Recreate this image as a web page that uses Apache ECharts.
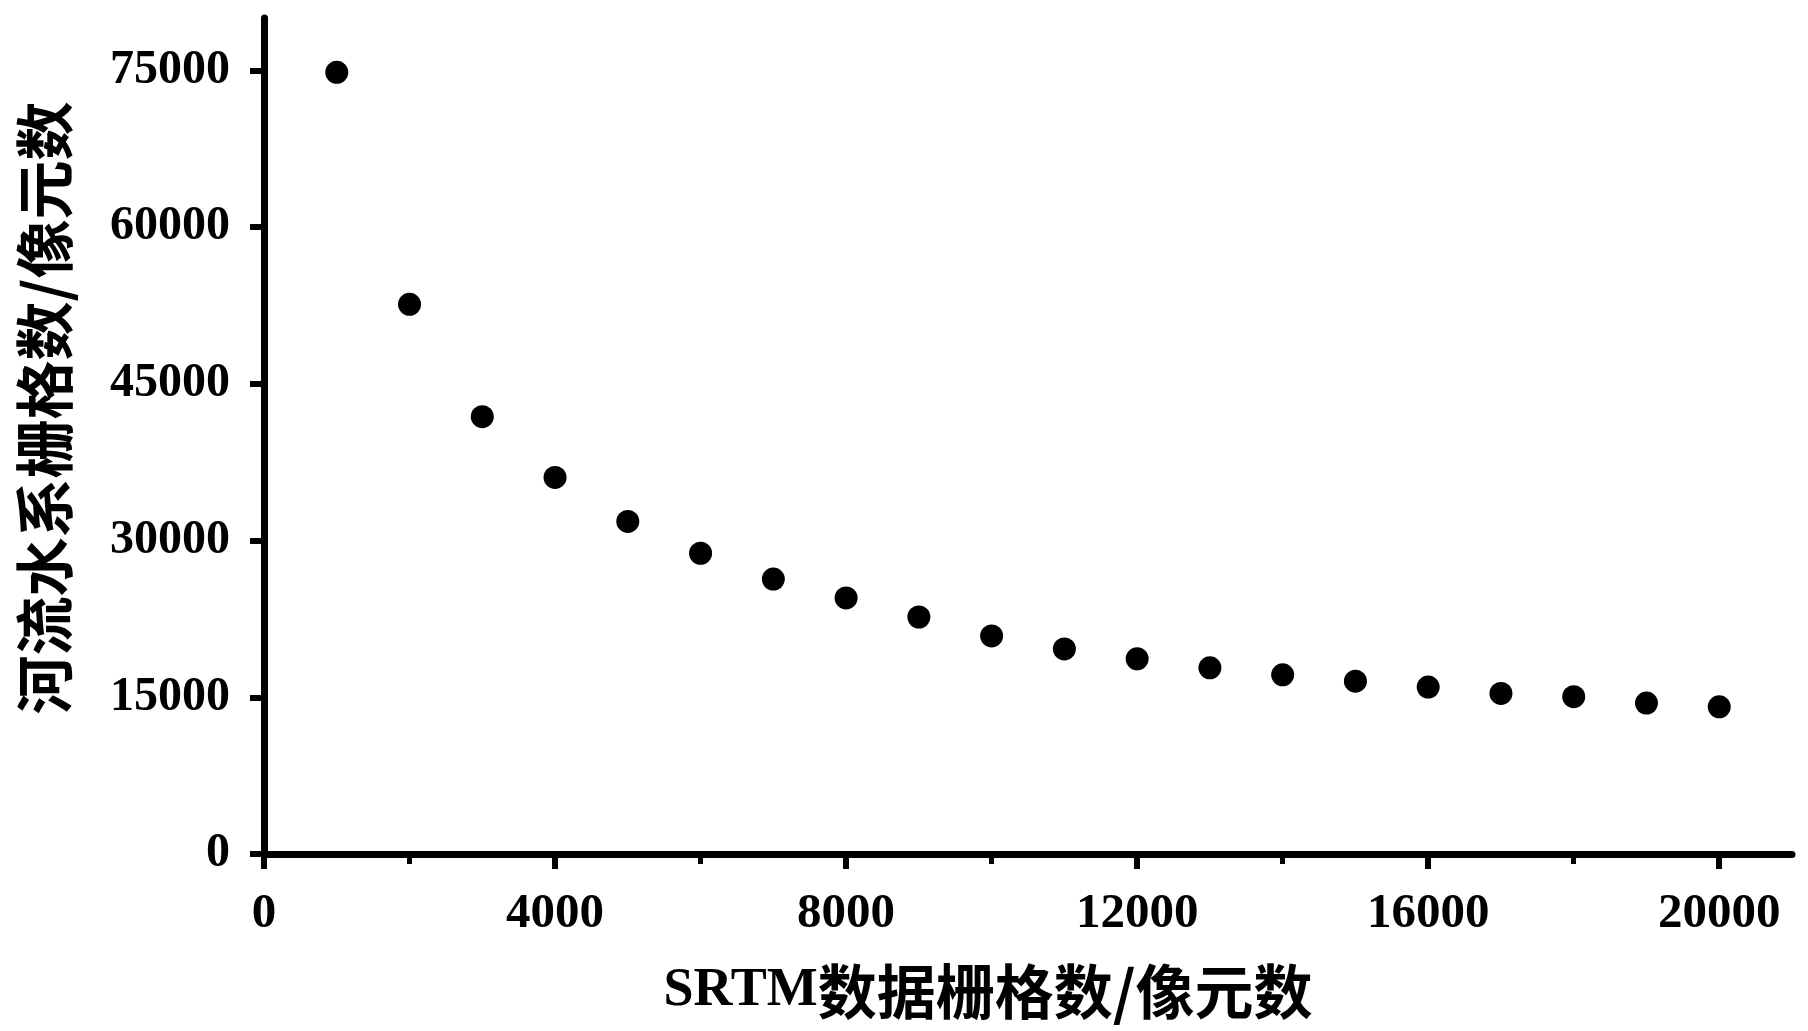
<!DOCTYPE html>
<html>
<head>
<meta charset="utf-8">
<script src="https://cdn.jsdelivr.net/npm/echarts@6/dist/echarts.min.js"></script>
<style>
html,body{margin:0;padding:0;background:#fff;}
#chart{width:1808px;height:1031px;}
</style>
</head>
<body>
<div id="chart"></div>
<script>
const xValues = [1000,2000,3000,4000,5000,6000,7000,8000,9000,10000,11000,12000,13000,14000,15000,16000,17000,18000,19000,20000];
const yValues = [74800,52600,41850,36030,31820,28780,26310,24500,22680,20870,19620,18680,17820,17150,16540,15980,15370,15050,14440,14090];
const xMajorTicks = [0,4000,8000,12000,16000,20000];
const xMinorTicks = [2000,6000,10000,14000,18000];
const yTicks = [0,15000,30000,45000,60000,75000];
const xTitleLatin = 'SRTM';
const xTitleCJK = '数据栅格数/像元数';
const yTitle = '河流水系栅格数/像元数';

const chart = echarts.init(document.getElementById('chart'));
const serif = '"Liberation Serif","Times New Roman",serif';
const cjk = '"Noto Sans CJK SC","Liberation Serif",sans-serif';
const plain = v => String(v);

chart.setOption({
  animation: false,
  backgroundColor: '#fff',
  grid: {left: 264, right: 16, top: 18, bottom: 177, containLabel: false},
  xAxis: [{
    type: 'value', min: 0, max: 21000, position: 'bottom',
    splitLine: {show: false},
    axisLine: {show: true, lineStyle: {color: '#000', width: 7}},
    axisTick: {show: true, inside: false, length: 15, customValues: xMajorTicks, lineStyle: {color: '#000', width: 6}},
    axisLabel: {show: true, customValues: xMajorTicks, formatter: plain, margin: 36, color: '#000', fontFamily: serif, fontWeight: 'bold', fontSize: 49},
    name: '{a|' + xTitleLatin + '}{b|' + xTitleCJK + '}',
    nameLocation: 'middle', nameGap: 108,
    nameTextStyle: {padding: [0, 80, 0, 0], rich: {
      a: {fontFamily: serif, fontWeight: 'bold', fontSize: 54, color: '#000'},
      b: {fontFamily: cjk, fontWeight: 'bold', fontSize: 59, color: '#000'}
    }}
  }, {
    type: 'value', min: 0, max: 21000, position: 'bottom', offset: 0,
    splitLine: {show: false},
    axisLine: {show: false},
    axisTick: {show: true, inside: false, length: 10, customValues: xMinorTicks, lineStyle: {color: '#000', width: 5}},
    axisLabel: {show: false}
  }],
  yAxis: {
    type: 'value', min: 0, max: 80000,
    splitLine: {show: false},
    axisLine: {show: true, lineStyle: {color: '#000', width: 7}},
    axisTick: {show: true, inside: false, length: 14, customValues: yTicks, lineStyle: {color: '#000', width: 6}},
    axisLabel: {show: true, customValues: yTicks, formatter: plain, margin: 34, color: '#000', fontFamily: serif, fontWeight: 'bold', fontSize: 48},
    name: yTitle,
    nameLocation: 'middle', nameGap: 190, nameRotate: 90,
    nameTextStyle: {fontFamily: cjk, fontWeight: 'bold', fontSize: 59, color: '#000', padding: [0, 0, 0, 56]}
  },
  series: [{
    type: 'scatter',
    xAxisIndex: 0,
    symbol: 'circle',
    symbolSize: 23,
    itemStyle: {color: '#000', opacity: 1},
    data: xValues.map((x, i) => [x, yValues[i]])
  }]
});
</script>
</body>
</html>
